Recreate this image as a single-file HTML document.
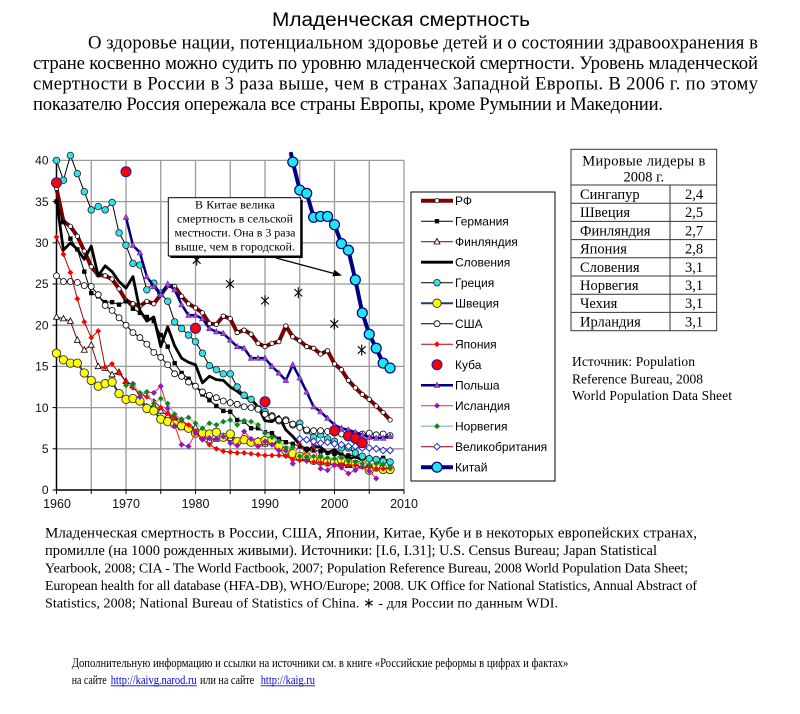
<!DOCTYPE html>
<html><head><meta charset="utf-8"><style>
html,body{margin:0;padding:0;background:#fff;}
body{width:800px;height:714px;overflow:hidden;position:relative;}
svg{position:absolute;left:0;top:0;}
.s{fill:none;vector-effect:non-scaling-stroke;stroke-linejoin:round;stroke-linecap:round;}
.serif{font-family:"Liberation Serif","Noto Serif CJK SC",serif;}
.sans{font-family:"Liberation Sans","Noto Sans CJK SC",sans-serif;}
</style></head><body>
<svg width="800" height="714" viewBox="0 0 800 714" xmlns="http://www.w3.org/2000/svg">
<defs>
<marker id="mRF" markerUnits="userSpaceOnUse" markerWidth="1" markerHeight="1" style="overflow:visible"><g transform="scale(0.143885,-0.121359)"><circle r="2.2" fill="#fff" stroke="#000" stroke-width="0.8"/></g></marker>
<marker id="mDE" markerUnits="userSpaceOnUse" markerWidth="1" markerHeight="1" style="overflow:visible"><g transform="scale(0.143885,-0.121359)"><rect x="-2.2" y="-2.2" width="4.4" height="4.4" fill="#000"/></g></marker>
<marker id="mFI" markerUnits="userSpaceOnUse" markerWidth="1" markerHeight="1" style="overflow:visible"><g transform="scale(0.143885,-0.121359)"><polygon points="0,-3.2 3,2.3 -3,2.3" fill="#fff" stroke="#000" stroke-width="0.8"/></g></marker>
<marker id="mGR" markerUnits="userSpaceOnUse" markerWidth="1" markerHeight="1" style="overflow:visible"><g transform="scale(0.143885,-0.121359)"><circle r="3.3" fill="#2FE3E8" stroke="#222" stroke-width="0.8"/></g></marker>
<marker id="mSE" markerUnits="userSpaceOnUse" markerWidth="1" markerHeight="1" style="overflow:visible"><g transform="scale(0.143885,-0.121359)"><circle r="4.2" fill="#FFFF00" stroke="#333" stroke-width="0.9"/></g></marker>
<marker id="mUS" markerUnits="userSpaceOnUse" markerWidth="1" markerHeight="1" style="overflow:visible"><g transform="scale(0.143885,-0.121359)"><circle r="3" fill="#fff" stroke="#000" stroke-width="0.8"/></g></marker>
<marker id="mJP" markerUnits="userSpaceOnUse" markerWidth="1" markerHeight="1" style="overflow:visible"><g transform="scale(0.143885,-0.121359)"><polygon points="0,-2.9 2.9,0 0,2.9 -2.9,0" fill="#FF0000"/></g></marker>
<marker id="mPL" markerUnits="userSpaceOnUse" markerWidth="1" markerHeight="1" style="overflow:visible"><g transform="scale(0.143885,-0.121359)"><polygon points="0,-3 2.8,2.2 -2.8,2.2" fill="#CC33CC" stroke="#3333AA" stroke-width="0.6"/></g></marker>
<marker id="mIS" markerUnits="userSpaceOnUse" markerWidth="1" markerHeight="1" style="overflow:visible"><g transform="scale(0.143885,-0.121359)"><polygon points="0,-2.7 2.7,0 0,2.7 -2.7,0" fill="#B800C8" stroke="#4040D0" stroke-width="0.5"/></g></marker>
<marker id="mNO" markerUnits="userSpaceOnUse" markerWidth="1" markerHeight="1" style="overflow:visible"><g transform="scale(0.143885,-0.121359)"><polygon points="0,-2.9 2.9,0 0,2.9 -2.9,0" fill="#118811"/></g></marker>
<marker id="mUK" markerUnits="userSpaceOnUse" markerWidth="1" markerHeight="1" style="overflow:visible"><g transform="scale(0.143885,-0.121359)"><polygon points="0,-3.3 3.3,0 0,3.3 -3.3,0" fill="#fff" stroke="#2030C0" stroke-width="1"/></g></marker>
<marker id="mCN" markerUnits="userSpaceOnUse" markerWidth="1" markerHeight="1" style="overflow:visible"><g transform="scale(0.143885,-0.121359)"><circle r="5" fill="#22E5F0" stroke="#000080" stroke-width="1.2"/></g></marker>
</defs>

<!-- Title & paragraph -->
<text class="sans" x="272" y="26" font-size="19" textLength="258" lengthAdjust="spacingAndGlyphs" fill="#000">Младенческая смертность</text>
<g class="serif" font-size="18.7" fill="#000">
<text x="88" y="48.5" textLength="670" lengthAdjust="spacing">О здоровье нации, потенциальном здоровье детей и о состоянии здравоохранения в</text>
<text x="33" y="69" textLength="725" lengthAdjust="spacing">стране косвенно можно судить по уровню младенческой смертности. Уровень младенческой</text>
<text x="33" y="89.5" textLength="725" lengthAdjust="spacing">смертности в России в 3 раза выше, чем в странах Западной Европы. В 2006 г. по этому</text>
<text x="33" y="110" textLength="630" lengthAdjust="spacing">показателю Россия опережала все страны Европы, кроме Румынии и Македонии.</text>
</g>

<!-- Grid -->
<g stroke="#9a9a9a" stroke-width="1.3">
<line x1="91.25" y1="160.4" x2="91.25" y2="490"/>
<line x1="126" y1="160.4" x2="126" y2="490"/>
<line x1="160.75" y1="160.4" x2="160.75" y2="490"/>
<line x1="195.5" y1="160.4" x2="195.5" y2="490"/>
<line x1="230.25" y1="160.4" x2="230.25" y2="490"/>
<line x1="265" y1="160.4" x2="265" y2="490"/>
<line x1="299.75" y1="160.4" x2="299.75" y2="490"/>
<line x1="334.5" y1="160.4" x2="334.5" y2="490"/>
<line x1="369.25" y1="160.4" x2="369.25" y2="490"/>
<line x1="404" y1="160.4" x2="404" y2="490"/>
<line x1="56.5" y1="448.8" x2="404" y2="448.8"/>
<line x1="56.5" y1="407.6" x2="404" y2="407.6"/>
<line x1="56.5" y1="366.4" x2="404" y2="366.4"/>
<line x1="56.5" y1="325.2" x2="404" y2="325.2"/>
<line x1="56.5" y1="284" x2="404" y2="284"/>
<line x1="56.5" y1="242.8" x2="404" y2="242.8"/>
<line x1="56.5" y1="201.6" x2="404" y2="201.6"/>
<line x1="56.5" y1="160.4" x2="404" y2="160.4"/>
</g>
<!-- Axes -->
<g stroke="#000" stroke-width="1.5">
<line x1="56.5" y1="160.4" x2="56.5" y2="490.7"/>
<line x1="55.8" y1="490" x2="404" y2="490"/>
</g>
<g stroke="#000" stroke-width="1">
<line x1="52.5" y1="490" x2="56.5" y2="490"/><line x1="52.5" y1="448.8" x2="56.5" y2="448.8"/><line x1="52.5" y1="407.6" x2="56.5" y2="407.6"/><line x1="52.5" y1="366.4" x2="56.5" y2="366.4"/><line x1="52.5" y1="325.2" x2="56.5" y2="325.2"/><line x1="52.5" y1="284" x2="56.5" y2="284"/><line x1="52.5" y1="242.8" x2="56.5" y2="242.8"/><line x1="52.5" y1="201.6" x2="56.5" y2="201.6"/><line x1="52.5" y1="160.4" x2="56.5" y2="160.4"/>
<line x1="56.5" y1="490" x2="56.5" y2="494"/><line x1="91.25" y1="490" x2="91.25" y2="494"/><line x1="126" y1="490" x2="126" y2="494"/><line x1="160.75" y1="490" x2="160.75" y2="494"/><line x1="195.5" y1="490" x2="195.5" y2="494"/><line x1="230.25" y1="490" x2="230.25" y2="494"/><line x1="265" y1="490" x2="265" y2="494"/><line x1="299.75" y1="490" x2="299.75" y2="494"/><line x1="334.5" y1="490" x2="334.5" y2="494"/><line x1="369.25" y1="490" x2="369.25" y2="494"/><line x1="404" y1="490" x2="404" y2="494"/>
</g>
<g class="sans" font-size="12" fill="#111" text-anchor="end">
<text x="48.5" y="494.2">0</text><text x="48.5" y="453">5</text><text x="48.5" y="411.8">10</text><text x="48.5" y="370.6">15</text><text x="48.5" y="329.4">20</text><text x="48.5" y="288.2">25</text><text x="48.5" y="247">30</text><text x="48.5" y="205.8">35</text><text x="48.5" y="164.6">40</text>
</g>
<g class="sans" font-size="12.5" fill="#111" text-anchor="middle">
<text x="57" y="508">1960</text><text x="126" y="508">1970</text><text x="195.5" y="508">1980</text><text x="265" y="508">1990</text><text x="334.5" y="508">2000</text><text x="404" y="508">2010</text>
</g>

<!-- Asterisks (Russia WDI) -->
<g stroke="#000" stroke-width="1.1">
<path d="M196.7,254.5v11M192.8,256.3l7.8,7.4M192.8,263.7l7.8,-7.4"/>
<path d="M230,278.5v11M226.1,280.3l7.8,7.4M226.1,287.7l7.8,-7.4"/>
<path d="M265,295.2v11M261.1,297l7.8,7.4M261.1,304.4l7.8,-7.4"/>
<path d="M298.3,287.2v11M294.4,289l7.8,7.4M294.4,296.4l7.8,-7.4"/>
<path d="M334.3,318.5v11M330.4,320.3l7.8,7.4M330.4,327.7l7.8,-7.4"/>
<path d="M361.7,344.5v11M357.8,346.3l7.8,7.4M357.8,353.7l7.8,-7.4"/>
</g>

<!-- Series -->
<g transform="matrix(6.95,0,0,-8.24,56.5,490)">
<polyline class="s" stroke="#800000" stroke-width="4" marker-start="url(#mRF)" marker-mid="url(#mRF)" marker-end="url(#mRF)" points="0,36.6 1,32.6 2,32 3,30.8 4,29 5,27.1 6,26.1 7,26 8,25.6 9,24.4 10,23 11,22.6 12,22.3 13,22.9 14,22.6 15,23.7 16,24.8 17,24.7 18,23.5 19,22.6 20,22.1 21,21.5 22,20.2 23,20.1 24,21.1 25,20.8 26,19.1 27,19.4 28,18.9 29,17.8 30,17.4 31,17.8 32,18 33,19.9 34,18.6 35,18.1 36,17.4 37,17.2 38,16.5 39,16.9 40,15.3 41,14.6 42,13.3 43,12.4 44,11.6 45,11 46,10.2 47,9.4 48,8.5"/>
<polyline class="s" stroke="#000" stroke-width="1" marker-start="url(#mDE)" marker-mid="url(#mDE)" marker-end="url(#mDE)" points="0,35 1,32.5 2,30.5 3,29.2 4,26.5 5,23.9 6,23.5 7,22.8 8,22.8 9,22.5 10,22.9 11,22 12,21.5 13,21 14,20.5 15,18.8 16,17.4 17,15.4 18,14.2 19,13.5 20,12.6 21,11.6 22,10.9 23,10.2 24,9.6 25,9.5 26,8.5 27,8.3 28,7.5 29,7.5 30,7 31,6.9 32,6.2 33,5.8 34,5.6 35,5.3 36,5 37,4.8 38,4.7 39,4.5 40,4.4 41,4.3 42,4.2 43,4.2 44,4.1 45,3.9 46,3.8 47,3.9 48,3.5"/>
<polyline class="s" stroke="#800000" stroke-width="1" marker-start="url(#mFI)" marker-mid="url(#mFI)" marker-end="url(#mFI)" points="0,21 1,20.8 2,20.5 3,18.2 4,17 5,17.6 6,15 7,14.8 8,14 9,14.3 10,13.2 11,12.7 12,11.3 13,10.1 14,10.2 15,9.6 16,9 17,8.9 18,7.6 19,7.6 20,7.6 21,6.5 22,6 23,6.2 24,6.5 25,6.3 26,5.8 27,6.2 28,6 29,6 30,5.6 31,5.8 32,5.2 33,4.4 34,4.7 35,3.9 36,4 37,3.9 38,4.2 39,3.6 40,3.8 41,3.2 42,3 43,3.1 44,3.3 45,3 46,2.8 47,2.7 48,2.6"/>
<polyline class="s" stroke="#000" stroke-width="2.8" points="0,35.2 1,29.1 2,30 3,29.2 4,28 5,29.6 6,26 7,27.2 8,26.5 9,25.3 10,24.5 11,25.9 12,21.8 13,20.5 14,21 15,17.4 16,19.8 17,17.5 18,16 19,15.5 20,15.2 21,13 22,13.8 23,13.4 24,13.3 25,12.5 26,12 27,11.3 28,11 29,10.1 30,8.4 31,8.3 32,8.9 33,7.3 34,6.5 35,5.5 36,4.7 37,5.3 38,5.2 39,4.5 40,4.9 41,4.2 42,3.8 43,4 44,3.7 45,4.1 46,3.4 47,2.8 48,2.4"/>
<polyline class="s" stroke="#000" stroke-width="1" marker-start="url(#mGR)" marker-mid="url(#mGR)" marker-end="url(#mGR)" points="0,40 1,37.6 2,40.6 3,38.4 4,36.2 5,34 6,34.4 7,34 8,34.9 9,31.2 10,29.7 11,27.5 12,27.3 13,24.3 14,25.1 15,23.9 16,22.9 17,20.4 18,19.6 19,18.8 20,18 21,16.6 22,15.1 23,14.6 24,14.1 25,14.1 26,12.5 27,11.5 28,11 29,9.9 30,9.5 31,9 32,8.4 33,8.5 34,7.9 35,8.1 36,7.2 37,6.4 38,6.7 39,6.2 40,5.9 41,5.1 42,5.1 43,4.5 44,4.1 45,3.8 46,3.7 47,3.5 48,3.4"/>
<polyline class="s" stroke="#1F3C78" stroke-width="2" marker-start="url(#mSE)" marker-mid="url(#mSE)" marker-end="url(#mSE)" points="0,16.6 1,15.8 2,15.4 3,15.4 4,14.2 5,13.3 6,12.6 7,12.9 8,13.1 9,11.7 10,11 11,11.1 12,10.8 13,9.9 14,9.6 15,8.6 16,8.3 17,8 18,7.8 19,7.5 20,6.9 21,6.9 22,6.8 23,7 24,6.4 25,6.8 26,5.9 27,6.1 28,5.8 29,5.8 30,6 31,6.1 32,5.3 33,4.8 34,4.4 35,4.1 36,4 37,3.6 38,3.5 39,3.4 40,3.4 41,3.7 42,3.3 43,3.1 44,3.1 45,2.4 46,2.8 47,2.5 48,2.5"/>
<polyline class="s" stroke="#000" stroke-width="1" marker-start="url(#mUS)" marker-mid="url(#mUS)" marker-end="url(#mUS)" points="0,26 1,25.3 2,25.3 3,25.2 4,24.8 5,24.7 6,23.7 7,22.4 8,21.8 9,20.9 10,20 11,19.1 12,18.5 13,17.7 14,16.7 15,16.1 16,15.2 17,14.1 18,13.8 19,13.1 20,12.6 21,11.9 22,11.5 23,11.2 24,10.8 25,10.6 26,10.4 27,10.1 28,10 29,9.8 30,9.2 31,8.9 32,8.5 33,8.4 34,8 35,7.6 36,7.3 37,7.2 38,7.2 39,7.1 40,6.9 41,6.8 42,7 43,6.8 44,6.8 45,6.9 46,6.7 47,6.8 48,6.6"/>
<polyline class="s" stroke="#B00000" stroke-width="1" marker-start="url(#mJP)" marker-mid="url(#mJP)" marker-end="url(#mJP)" points="0,30.7 1,28.6 2,26.4 3,23.2 4,20.4 5,18.5 6,19.3 7,14.9 8,15.3 9,14.2 10,13.1 11,12.4 12,11.7 13,11.3 14,10.8 15,10 16,9.3 17,8.9 18,8.4 19,7.9 20,7.1 21,6.2 22,5.5 23,5 24,4.7 25,4.6 26,4.5 27,4.5 28,4.4 29,4.3 30,4.2 31,4.2 32,4.2 33,4.1 34,3.7 35,3.6 36,3.5 37,3.4 38,3.3 39,3.2 40,3.1 41,3.1 42,3 43,3 44,2.8 45,2.8 46,2.6 47,2.6 48,2.6"/>
<polyline class="s" stroke="#000080" stroke-width="2.5" marker-start="url(#mPL)" marker-mid="url(#mPL)" marker-end="url(#mPL)" points="10,33.1 11,29.7 12,28.8 13,25.9 14,24.7 15,23.7 16,25 17,24.3 18,22.5 19,21.2 20,21.2 21,20.8 22,19.6 23,19.2 24,19 25,18.2 26,17.4 27,17.2 28,16 29,16 30,16 31,15 32,14.2 33,13.3 34,15.2 35,13.6 36,11.9 37,10.1 38,9.5 39,8.7 40,7.9 41,7.5 42,7.3 43,7 44,6.7 45,6.4 46,6.3 47,6.3 48,6.5"/>
<polyline class="s" stroke="#FF2020" stroke-width="1" marker-start="url(#mIS)" marker-mid="url(#mIS)" marker-end="url(#mIS)" points="11,12.9 12,11.3 13,11.9 14,11.8 15,12.6 16,9.9 17,7.8 18,5.5 19,5.3 20,6.9 21,6.1 22,6.3 23,6.2 24,6.5 25,5.7 26,5.4 27,7.1 28,6.2 29,5.3 30,5.9 31,5.5 32,4.8 33,4.8 34,3.2 35,6.1 36,3.7 37,5.5 38,2.6 39,2.4 40,3 41,2.7 42,2 43,2.4 44,2.8 45,2.3 46,1.4"/>
<polyline class="s" stroke="#9CC5D8" stroke-width="1.5" marker-start="url(#mNO)" marker-mid="url(#mNO)" marker-end="url(#mNO)" points="10,12.7 11,12.8 12,11.8 13,11.9 14,10.5 15,11.1 16,10.5 17,9.2 18,8.6 19,8.8 20,8.1 21,7.5 22,8.1 23,7.9 24,8.3 25,8.5 26,7.9 27,8.4 28,8.3 29,7.9 30,6.9 31,6.4 32,5.9 33,5.1 34,5.2 35,4.1 36,4 37,4.1 38,4 39,3.9 40,3.8 41,3.9 42,3.5 43,3.4 44,3.2 45,3.1 46,3.2 47,3.1 48,2.7"/>
<polyline class="s" stroke="#800000" stroke-width="1" marker-start="url(#mUK)" marker-mid="url(#mUK)" marker-end="url(#mUK)" points="35,6.2 36,6.1 37,5.9 38,5.7 39,5.8 40,5.6 41,5.5 42,5.3 43,5.3 44,5.1 45,5.1 46,5 47,4.8 48,4.8"/>
<polyline class="s" stroke="#000080" stroke-width="4" marker-mid="url(#mCN)" marker-end="url(#mCN)" points="33.75,40.8 34,39.8 35,36.4 36,36 37,33.1 38,33.2 39,33.2 40,32.2 41,29.9 42,29.1 43,25.5 44,21.5 45,18.9 46,17.2 47,15.4 48,14.8"/>
</g>

<!-- Cuba -->
<g fill="#FF0000" stroke="#1A1AB0" stroke-width="1">
<circle cx="56.5" cy="182.7" r="5"/><circle cx="126" cy="171.7" r="5"/><circle cx="195.5" cy="328.3" r="5"/><circle cx="265" cy="401.7" r="5"/><circle cx="334.5" cy="430.7" r="5"/><circle cx="348.4" cy="436" r="5"/><circle cx="355.35" cy="438.3" r="5"/><circle cx="362.3" cy="442.7" r="5"/>
</g>

<!-- Callout -->
<rect x="170.3" y="199.7" width="132.4" height="58.3" fill="#000"/>
<rect x="168.3" y="197.7" width="132.4" height="58.3" fill="#fff" stroke="#000" stroke-width="1"/>
<g class="serif" font-size="12" fill="#000" text-anchor="middle">
<text x="235" y="208.5" textLength="80" lengthAdjust="spacing">В Китае велика</text>
<text x="235" y="222.5" textLength="116" lengthAdjust="spacing">смертность в сельской</text>
<text x="235" y="236.5" textLength="121" lengthAdjust="spacing">местности. Она в 3 раза</text>
<text x="235" y="250.5" textLength="120" lengthAdjust="spacing">выше, чем в городской.</text>
</g>
<line x1="276" y1="258" x2="334" y2="273.5" stroke="#000" stroke-width="1.2"/>
<polygon points="342,275.5 334.3,269.7 332.4,276.4" fill="#000"/>

<!-- Legend -->
<rect x="411" y="192" width="144" height="289" fill="#fff" stroke="#000" stroke-width="1"/>
<g>
<line x1="421" y1="200.7" x2="453" y2="200.7" stroke="#800000" stroke-width="4"/><circle cx="437" cy="200.7" r="2.2" fill="#fff" stroke="#000" stroke-width="0.8"/>
<line x1="421" y1="221.2" x2="453" y2="221.2" stroke="#000" stroke-width="1"/><rect x="434.8" y="219" width="4.4" height="4.4" fill="#000"/>
<line x1="421" y1="241.7" x2="453" y2="241.7" stroke="#800000" stroke-width="1"/><polygon points="437,238.5 440,244 434,244" fill="#fff" stroke="#000" stroke-width="0.8"/>
<line x1="421" y1="262.2" x2="453" y2="262.2" stroke="#000" stroke-width="2.8"/>
<line x1="421" y1="282.7" x2="453" y2="282.7" stroke="#000" stroke-width="1"/><circle cx="437" cy="282.7" r="3.3" fill="#2FE3E8" stroke="#222" stroke-width="0.8"/>
<line x1="421" y1="303.2" x2="453" y2="303.2" stroke="#1F3C78" stroke-width="2"/><circle cx="437" cy="303.2" r="4.2" fill="#FFFF00" stroke="#333" stroke-width="0.9"/>
<line x1="421" y1="323.7" x2="453" y2="323.7" stroke="#000" stroke-width="1"/><circle cx="437" cy="323.7" r="3" fill="#fff" stroke="#000" stroke-width="0.8"/>
<line x1="421" y1="344.2" x2="453" y2="344.2" stroke="#B00000" stroke-width="1"/><polygon points="437,341.3 439.9,344.2 437,347.1 434.1,344.2" fill="#FF0000"/>
<circle cx="437" cy="364.7" r="5" fill="#FF0000" stroke="#1A1AB0" stroke-width="1"/>
<line x1="421" y1="385.2" x2="453" y2="385.2" stroke="#000080" stroke-width="2.5"/><polygon points="437,382.2 439.8,387.4 434.2,387.4" fill="#CC33CC" stroke="#3333AA" stroke-width="0.6"/>
<line x1="421" y1="405.7" x2="453" y2="405.7" stroke="#FF2020" stroke-width="1"/><polygon points="437,403 439.7,405.7 437,408.4 434.3,405.7" fill="#B800C8" stroke="#4040D0" stroke-width="0.5"/>
<line x1="421" y1="426.2" x2="453" y2="426.2" stroke="#9CC5D8" stroke-width="1.5"/><polygon points="437,423.3 439.9,426.2 437,429.1 434.1,426.2" fill="#118811"/>
<line x1="421" y1="446.7" x2="453" y2="446.7" stroke="#800000" stroke-width="1"/><polygon points="437,443.4 440.3,446.7 437,450 433.7,446.7" fill="#fff" stroke="#2030C0" stroke-width="1"/>
<line x1="421" y1="467.2" x2="453" y2="467.2" stroke="#000080" stroke-width="4"/><circle cx="437" cy="467.2" r="5" fill="#22E5F0" stroke="#000080" stroke-width="1.2"/>
</g>
<g class="sans" font-size="12" fill="#000">
<text x="455" y="205">РФ</text>
<text x="455" y="225.5">Германия</text>
<text x="455" y="246">Финляндия</text>
<text x="455" y="266.5">Словения</text>
<text x="455" y="287">Греция</text>
<text x="455" y="307.5">Швеция</text>
<text x="455" y="328">США</text>
<text x="455" y="348.5">Япония</text>
<text x="455" y="369">Куба</text>
<text x="455" y="389.5">Польша</text>
<text x="455" y="410">Исландия</text>
<text x="455" y="430.5">Норвегия</text>
<text x="455" y="451">Великобритания</text>
<text x="455" y="471.5">Китай</text>
</g>

<!-- Table -->
<g stroke="#333" stroke-width="1" fill="none">
<rect x="571" y="149.3" width="145.7" height="181.4"/>
<line x1="571" y1="185" x2="716.7" y2="185"/>
<line x1="571" y1="203.2" x2="716.7" y2="203.2"/>
<line x1="571" y1="221.4" x2="716.7" y2="221.4"/>
<line x1="571" y1="239.6" x2="716.7" y2="239.6"/>
<line x1="571" y1="257.8" x2="716.7" y2="257.8"/>
<line x1="571" y1="276" x2="716.7" y2="276"/>
<line x1="571" y1="294.2" x2="716.7" y2="294.2"/>
<line x1="571" y1="312.4" x2="716.7" y2="312.4"/>
<line x1="670" y1="185" x2="670" y2="330.7"/>
</g>
<g class="serif" font-size="14.5" fill="#000">
<text x="643.8" y="165.5" text-anchor="middle" textLength="123" lengthAdjust="spacing">Мировые лидеры в</text>
<text x="643.8" y="181.5" text-anchor="middle">2008 г.</text>
<text x="580" y="199">Сингапур</text><text x="694" y="199" text-anchor="middle">2,4</text>
<text x="580" y="217.2">Швеция</text><text x="694" y="217.2" text-anchor="middle">2,5</text>
<text x="580" y="235.4">Финляндия</text><text x="694" y="235.4" text-anchor="middle">2,7</text>
<text x="580" y="253.6">Япония</text><text x="694" y="253.6" text-anchor="middle">2,8</text>
<text x="580" y="271.8">Словения</text><text x="694" y="271.8" text-anchor="middle">3,1</text>
<text x="580" y="290">Норвегия</text><text x="694" y="290" text-anchor="middle">3,1</text>
<text x="580" y="308.2">Чехия</text><text x="694" y="308.2" text-anchor="middle">3,1</text>
<text x="580" y="326.4">Ирландия</text><text x="694" y="326.4" text-anchor="middle">3,1</text>
</g>
<g class="serif" font-size="13.5" fill="#000">
<text x="572" y="366" textLength="123" lengthAdjust="spacing">Источник: Population</text>
<text x="572" y="383.5" textLength="131" lengthAdjust="spacing">Reference Bureau, 2008</text>
<text x="572" y="400" textLength="160" lengthAdjust="spacing">World Population Data Sheet</text>
</g>

<!-- Caption -->
<g class="serif" fill="#000">
<text x="45" y="537.5" font-size="15" textLength="652" lengthAdjust="spacing">Младенческая смертность в России, США, Японии, Китае, Кубе и в некоторых европейских странах,</text>
<text x="45" y="555" font-size="14.5" textLength="612" lengthAdjust="spacing">промилле (на 1000 рожденных живыми). Источники:  [I.6, I.31]; U.S. Census Bureau; Japan Statistical</text>
<text x="45" y="572.5" font-size="14" textLength="643" lengthAdjust="spacing">Yearbook, 2008; CIA - The World Factbook, 2007; Population Reference Bureau, 2008 World Population Data Sheet;</text>
<text x="45" y="590" font-size="14" textLength="652" lengthAdjust="spacing">European health for all database (HFA-DB), WHO/Europe; 2008. UK Office for National Statistics, Annual Abstract of</text>
<text x="45" y="607.5" font-size="14" textLength="513" lengthAdjust="spacing">Statistics, 2008; National Bureau of Statistics of China. ∗ - для России по данным WDI.</text>
</g>

<!-- Footer -->
<g class="serif" font-size="13" fill="#000">
<text x="71.7" y="667" textLength="496.6" lengthAdjust="spacingAndGlyphs">Дополнительную информацию и ссылки на источники см. в книге «Российские реформы в цифрах и фактах»</text>
<text x="71.7" y="684" textLength="35" lengthAdjust="spacingAndGlyphs">на сайте</text>
<text x="110.7" y="684" textLength="86" lengthAdjust="spacingAndGlyphs" fill="#0000EE">http://kaivg.narod.ru</text>
<text x="200" y="684" textLength="54.3" lengthAdjust="spacingAndGlyphs">или на сайте</text>
<text x="260.7" y="684" textLength="54.3" lengthAdjust="spacingAndGlyphs" fill="#0000EE">http://kaig.ru</text>
</g>
<line x1="110.7" y1="685.8" x2="196.7" y2="685.8" stroke="#0000EE" stroke-width="0.9"/>
<line x1="260.7" y1="685.8" x2="315" y2="685.8" stroke="#0000EE" stroke-width="0.9"/>
</svg>
</body></html>
